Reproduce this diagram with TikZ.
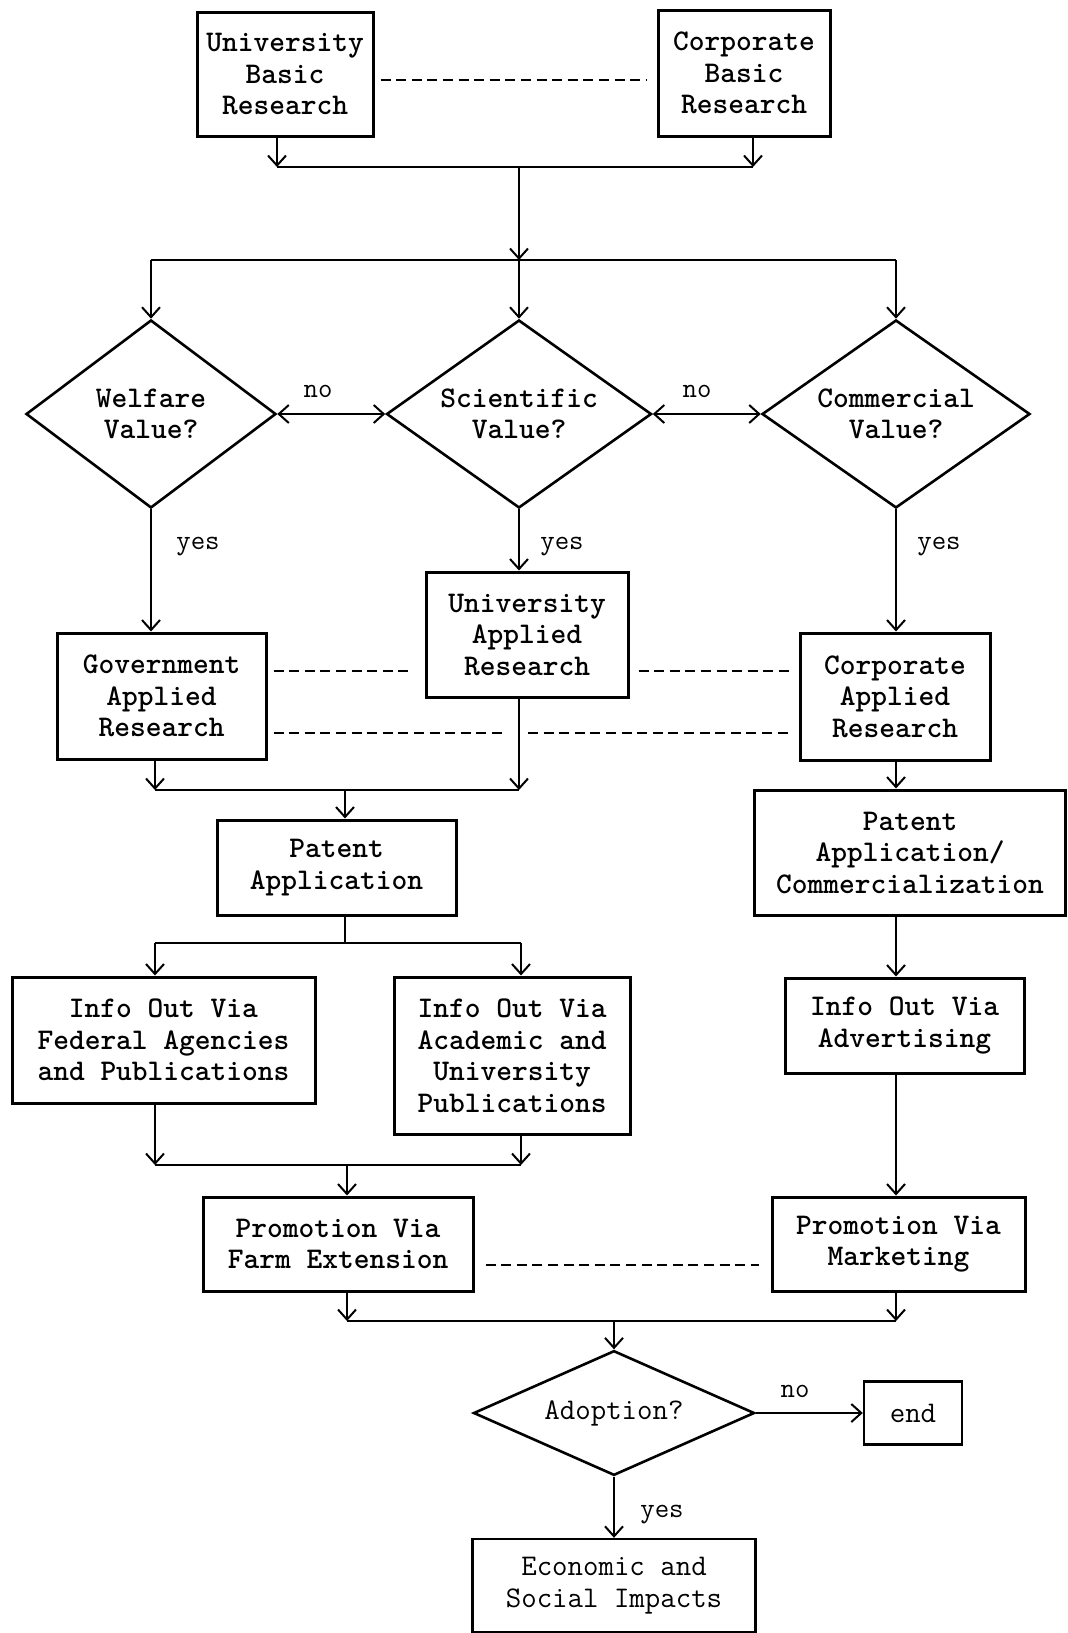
\documentclass[tikz,border=0pt]{standalone}
\usetikzlibrary{shapes.geometric,arrows.meta}
\begin{document}
\begin{tikzpicture}[x=1pt,y=-1pt,
  every node/.style={font=\fontsize{30}{31.5}\selectfont\ttfamily\bfseries, align=center},
  box/.style={draw, line width=3pt, inner sep=0pt},
  dia/.style={draw, diamond, line width=2.6pt, inner sep=0pt, aspect=1.4},
  lab/.style={font=\fontsize{28}{30}\selectfont\ttfamily},
  ln/.style={line width=2pt},
  arr/.style={line width=2pt, -{Straight Barb[length=10pt,width=18pt,line width=2pt]}},
  darr/.style={line width=2.6pt, {Straight Barb[length=10pt,width=18pt,line width=2pt]}-{Straight Barb[length=10pt,width=18pt,line width=2pt]}},
  dashln/.style={line width=2.2pt, dash pattern=on 10pt off 5.6pt}
]
\useasboundingbox (0,0) rectangle (1068,1633);

% basic research
\node[box, minimum width=176pt, minimum height=124pt] (ubr) at (285,74) {University\\Basic\\Research};
\node[box, minimum width=172pt, minimum height=126pt] (cbr) at (744,73) {Corporate\\Basic\\Research};
\draw[dashln] ([xshift=6pt]ubr.east |- 0,80) coordinate (dA) -- ([xshift=-10pt]cbr.west |- dA);

% junctions
\coordinate (j1l) at (277,167);
\coordinate (j1r) at (753,167);
\coordinate (j1c) at (519,167);
\coordinate (j2l) at (151,260);
\coordinate (j2c) at (519,260);
\coordinate (j2r) at (896,260);
\draw[arr] (ubr.south -| j1l) -- (j1l);
\draw[arr] (cbr.south -| j1r) -- (j1r);
\draw[ln] (j1l) -- (j1r);
\draw[arr] (j1c) -- (j2c);
\draw[ln] (j2l) -- (j2r);

% value diamonds
\node[dia, minimum width=250pt, minimum height=188pt] (wv) at (151,414) {Welfare\\Value?};
\node[dia, minimum width=265pt, minimum height=188pt] (sv) at (519,414) {Scientific\\Value?};
\node[dia, minimum width=268pt, minimum height=188pt] (cv) at (896,414) {Commercial\\Value?};
\draw[arr] (j2l) -- (wv.north);
\draw[arr] (j2c) -- (sv.north);
\draw[arr] (j2r) -- (cv.north);
\draw[darr] (wv.east) -- (sv.west);
\draw[darr] (sv.east) -- (cv.west);
\node[lab] (no1) at (318,391) {no};
\node[lab] (no2) at (697,391) {no};

% applied research
\node[box, minimum width=209pt, minimum height=126pt] (gar) at (161.5,696) {Government\\Applied\\Research};
\node[box, minimum width=202pt, minimum height=125pt] (uar) at (527,634.5) {University\\Applied\\Research};
\node[box, minimum width=190pt, minimum height=127pt] (car) at (895,696.5) {Corporate\\Applied\\Research};
\draw[arr] (wv.south) -- (wv.south |- gar.north);
\draw[arr] (sv.south) -- (sv.south |- uar.north);
\draw[arr] (cv.south) -- (cv.south |- car.north);
\node[lab] (yes1) at (198,547) {yes};
\node[lab] (yes2) at (562,547) {yes};
\node[lab] (yes3) at (939,547) {yes};

\coordinate (du) at (0,671);
\coordinate (dl) at (0,733);
\draw[dashln] ([xshift=6pt]gar.east |- du) -- ([xshift=-14pt]uar.west |- du);
\draw[dashln] ([xshift=9pt]uar.east |- du) -- ([xshift=-10pt]car.west |- du);
\coordinate (gap1) at (507,733);
\coordinate (gap2) at (528,733);
\draw[dashln] ([xshift=6pt]gar.east |- dl) -- (gap1);
\draw[dashln] (gap2) -- ([xshift=-10pt]car.west |- dl);

% junction 3
\coordinate (j3l) at (155,790);
\coordinate (j3r) at (519,790);
\coordinate (j3c) at (345,790);
\draw[arr] (gar.south -| j3l) -- (j3l);
\draw[arr] (uar.south -| j3r) -- (j3r);
\draw[ln] (j3l) -- (j3r);

\node[box, minimum width=239pt, minimum height=95pt] (pa) at (336.5,867.5) {Patent\\Application};
\node[box, minimum width=311pt, minimum height=125pt] (pac) at (910,852.5) {Patent\\Application/\\Commercialization};
\draw[arr] (j3c) -- (j3c |- pa.north);
\draw[arr] (car.south -| j2r) -- (pac.north -| j2r);

% junction 4
\coordinate (j4l) at (155,943);
\coordinate (j4r) at (521,943);
\coordinate (j4c) at (345,943);
\draw[ln] (pa.south -| j4c) -- (j4c);
\draw[ln] (j4l) -- (j4r);

\node[box, minimum width=303pt, minimum height=126pt] (iof) at (163.5,1040) {Info Out Via\\Federal Agencies\\and Publications};
\node[box, minimum width=236pt, minimum height=157pt] (ioa) at (512,1055.5) {Info Out Via\\Academic and\\University\\Publications};
\node[box, minimum width=239pt, minimum height=95pt] (iad) at (904.5,1025.5) {Info Out Via\\Advertising};
\draw[arr] (j4l) -- (j4l |- iof.north);
\draw[arr] (j4r) -- (j4r |- ioa.north);
\draw[arr] (pac.south -| j2r) -- (iad.north -| j2r);

% junction 5
\coordinate (j5l) at (155,1165);
\coordinate (j5r) at (521,1165);
\coordinate (j5c) at (347,1165);
\draw[arr] (iof.south -| j5l) -- (j5l);
\draw[arr] (ioa.south -| j5r) -- (j5r);
\draw[ln] (j5l) -- (j5r);

\node[box, minimum width=270pt, minimum height=94pt] (pfe) at (338,1244) {Promotion Via\\Farm Extension};
\node[box, minimum width=253pt, minimum height=94pt] (pmk) at (898.5,1244) {Promotion Via\\Marketing};
\draw[arr] (j5c) -- (j5c |- pfe.north);
\draw[arr] (iad.south -| j2r) -- (pmk.north -| j2r);
\coordinate (dm) at (0,1265);
\draw[dashln] ([xshift=11pt]pfe.east |- dm) -- ([xshift=-12pt]pmk.west |- dm);

% junction 6
\coordinate (j6l) at (347,1321);
\coordinate (j6r) at (896,1321);
\coordinate (j6c) at (614,1321);
\draw[arr] (pfe.south -| j6l) -- (j6l);
\draw[arr] (pmk.south -| j6r) -- (j6r);
\draw[ln] (j6l) -- (j6r);

% adoption
\node[dia, minimum width=281pt, minimum height=122pt, font=\fontsize{30}{31.5}\selectfont\ttfamily] (ad) at (614,1413) {Adoption?};
\node[box, line width=2.4pt, minimum width=98pt, minimum height=63pt, font=\fontsize{30}{31.5}\selectfont\ttfamily] (end) at (913,1413) {end};
\node[box, line width=2.4pt, minimum width=283pt, minimum height=93pt, font=\fontsize{30}{31.5}\selectfont\ttfamily] (esi) at (614,1585.5) {Economic and\\Social Impacts};
\draw[arr] (j6c) -- (ad.north);
\draw[arr] (ad.east) -- (ad.east -| end.west);
\draw[arr] (ad.south) -- (esi.north);
\node[lab] (no3) at (795,1391) {no};
\node[lab] (yes4) at (662,1515) {yes};
\end{tikzpicture}
\end{document}
